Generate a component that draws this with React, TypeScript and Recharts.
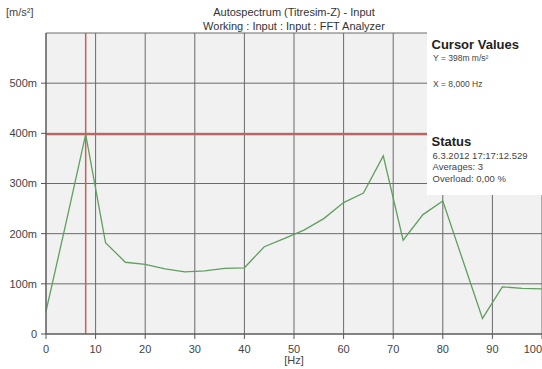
import { CartesianGrid, Line, LineChart, ReferenceLine, XAxis, YAxis } from 'recharts';

const freqs = [0, 4, 8, 12, 16, 20, 24, 28, 32, 36, 40, 44, 48, 52, 56, 60, 64, 68, 72, 76, 80, 84, 88, 92, 96, 100];
const amplitude = [45, 220, 398, 182, 143, 139, 130, 124, 126, 131, 132, 174, 190, 207, 230, 262, 281, 355, 187, 238, 265, 148, 31, 94, 91, 90];
const xTicks = [0, 10, 20, 30, 40, 50, 60, 70, 80, 90, 100];
const yTicks = [0, 100, 200, 300, 400, 500];
const cursor = { x: 8, y: 398 };
const titleLines = ['Autospectrum (Titresim-Z) - Input', 'Working : Input : Input : FFT Analyzer'];
const statusLines = ['6.3.2012  17:17:12.529', 'Averages: 3', 'Overload:  0,00 %'];

const data = freqs.map((f, i) => ({ f, a: amplitude[i] }));

const FONT = '"Liberation Sans", Arial, sans-serif';
const W = 542;
const H = 369;

// last x label sits on the right edge, so anchor it to its end to keep it visible
function XTick(props: any) {
  const { x, y, payload } = props;
  const last = payload.value === xTicks[xTicks.length - 1];
  return (
    <text
      x={last ? W : x}
      y={y + 8}
      textAnchor={last ? 'end' : 'middle'}
      fontSize={11}
      fontFamily={FONT}
      fill="#444"
    >
      {payload.value}
    </text>
  );
}

export default function App() {
  const tick = { fill: '#444', fontSize: 11, fontFamily: FONT };
  return (
    <div style={{ position: 'absolute', left: 0, top: 0, width: W, height: H, background: '#fff' }}>
      <LineChart width={W} height={H} data={data} margin={{ top: 33, right: 0, left: 0, bottom: 0 }}>
        <CartesianGrid fill="#f1f1f1" stroke="#6a6a6a" strokeWidth={1} />
        <XAxis
          dataKey="f"
          type="number"
          domain={[0, 100]}
          ticks={xTicks}
          height={35}
          tick={<XTick />}
          tickSize={5}
          tickMargin={6}
          stroke="#555"
          interval={0}
        />
        <YAxis
          type="number"
          domain={[0, 600]}
          ticks={yTicks}
          width={46}
          tick={tick}
          tickSize={5}
          tickMargin={4}
          stroke="#555"
          interval={0}
          tickFormatter={(v: number) => (v === 0 ? '0' : `${v}m`)}
        />
        <ReferenceLine y={cursor.y} stroke="#c5605c" strokeWidth={2} />
        <ReferenceLine x={cursor.x} stroke="#c5605c" strokeWidth={1.5} />
        <Line type="linear" dataKey="a" stroke="#5f9f5f" strokeWidth={1.3} dot={false} isAnimationActive={false} />
      </LineChart>
      <svg
        width={W}
        height={H}
        style={{ position: 'absolute', left: 0, top: 0, pointerEvents: 'none' }}
        fontFamily={FONT}
      >
        <text x={6} y={16} fontSize={11} fill="#444">[m/s²]</text>
        <text x={294} y={15.5} fontSize={11} fill="#333" textAnchor="middle">{titleLines[0]}</text>
        <text x={294} y={30} fontSize={11} fill="#333" textAnchor="middle">{titleLines[1]}</text>
        <text x={294} y={364} fontSize={11} fill="#444" textAnchor="middle">[Hz]</text>

        <rect x={427} y={30} width={115} height={165} fill="#fff" />
        <text x={431.5} y={49.3} fontSize={13} fontWeight="bold" fill="#222">Cursor Values</text>
        <text x={433} y={60.7} fontSize={8.5} fill="#444">{`Y = ${cursor.y}m m/s²`}</text>
        <text x={433} y={86.7} fontSize={8.5} fill="#444">X = 8,000 Hz</text>
        <text x={431.5} y={146} fontSize={13} fontWeight="bold" fill="#222">Status</text>
        <text x={432.5} y={159.3} fontSize={9.5} fill="#444">{statusLines[0]}</text>
        <text x={432.5} y={170} fontSize={9.5} fill="#444">{statusLines[1]}</text>
        <text x={432.5} y={181.7} fontSize={9.5} fill="#444">{statusLines[2]}</text>
      </svg>
    </div>
  );
}
